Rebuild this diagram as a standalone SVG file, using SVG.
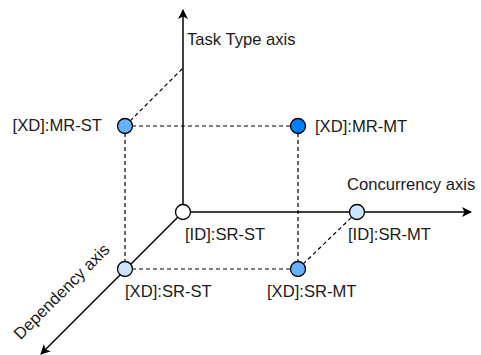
<svg xmlns="http://www.w3.org/2000/svg" width="481" height="355" viewBox="0 0 481 355">
<style>
.ax{stroke:#000;stroke-width:1.5;fill:none}
.d{stroke:#000;stroke-width:1.2;stroke-dasharray:4 3;fill:none}
.n{stroke:#000;stroke-width:1.3}
text{font-family:"Liberation Sans",Arial,sans-serif;font-size:16.6px;fill:#1a1a1a}
</style>
<defs>
<marker id="ar" viewBox="0 0 10 10" refX="9" refY="5" markerWidth="10" markerHeight="10" markerUnits="userSpaceOnUse" orient="auto">
<path d="M0,0 L10,5 L0,10 L2.5,5 Z" fill="#000"/>
</marker>
</defs>
<rect width="481" height="355" fill="#fff"/>
<g id="connectors">
<line class="ax" x1="183" y1="212" x2="183" y2="10" marker-end="url(#ar)"/>
<line class="ax" x1="183" y1="212" x2="471" y2="212" marker-end="url(#ar)"/>
<line class="ax" x1="183" y1="212" x2="41" y2="354" marker-end="url(#ar)"/>
<line class="d" x1="125" y1="126" x2="183" y2="68"/>
<line class="d" x1="125" y1="126" x2="298" y2="126"/>
<line class="d" x1="125" y1="126" x2="125" y2="269"/>
<line class="d" x1="298" y1="126" x2="298" y2="269"/>
<line class="d" x1="125" y1="269" x2="298" y2="269"/>
<line class="d" x1="298" y1="269" x2="357" y2="212"/>
</g>
<g id="axis-labels">
<text x="187" y="45">Task Type axis</text>
<text x="347" y="190">Concurrency axis</text>
<text transform="translate(62,292) rotate(-45)" text-anchor="middle" y="5">Dependency axis</text>
</g>
<g id="node-ID-SR-ST"><circle class="n" cx="183" cy="212" r="7.5" fill="#fff"/><text x="185" y="240">[ID]:SR-ST</text></g>
<g id="node-XD-MR-ST"><circle class="n" cx="125" cy="126" r="7.5" fill="#66B2FF"/><text x="102" y="131" text-anchor="end">[XD]:MR-ST</text></g>
<g id="node-XD-MR-MT"><circle class="n" cx="298" cy="126" r="7.5" fill="#007FFF"/><text x="315" y="132">[XD]:MR-MT</text></g>
<g id="node-ID-SR-MT"><circle class="n" cx="357" cy="212" r="7.5" fill="#CCE5FF"/><text x="348" y="240">[ID]:SR-MT</text></g>
<g id="node-XD-SR-ST"><circle class="n" cx="125" cy="269" r="7.5" fill="#CCE5FF"/><text x="125" y="297">[XD]:SR-ST</text></g>
<g id="node-XD-SR-MT"><circle class="n" cx="298" cy="269" r="7.5" fill="#66B2FF"/><text x="267" y="297">[XD]:SR-MT</text></g>
</svg>
